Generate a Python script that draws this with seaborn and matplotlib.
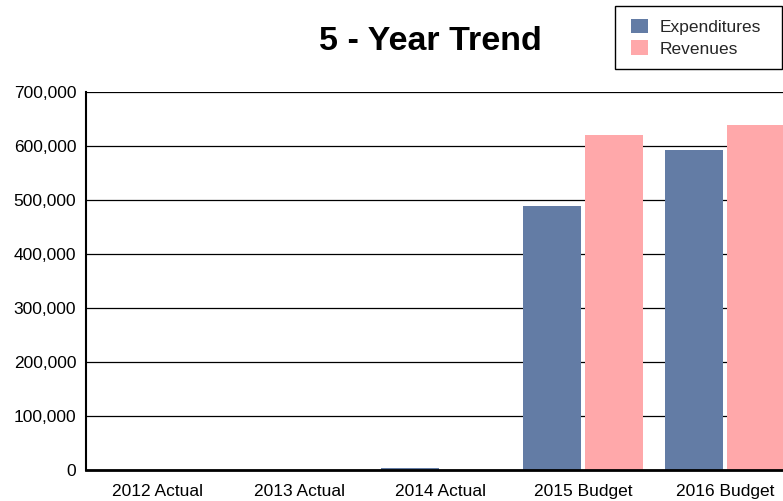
import matplotlib
matplotlib.use("Agg")
import matplotlib.pyplot as plt
import seaborn as sns
import pandas as pd
from matplotlib.patches import Patch, Rectangle
from matplotlib.ticker import FuncFormatter

categories = ["2012 Actual", "2013 Actual", "2014 Actual", "2015 Budget", "2016 Budget"]
expenditures = [0, 0, 4000, 489000, 593000]
revenues = [0, 0, 0, 620000, 639000]
series_names = ["Expenditures", "Revenues"]
colors = ["#637CA5", "#FFA8AA"]
yticks = [0, 100000, 200000, 300000, 400000, 500000, 600000, 700000]

df = pd.DataFrame({
    "Category": categories * 2,
    "Series": [series_names[0]] * len(categories) + [series_names[1]] * len(categories),
    "Value": expenditures + revenues,
})

sns.set_theme(style="white")
plt.rcParams["font.family"] = ["Liberation Sans", "DejaVu Sans"]

W, H = 783, 501
fig = plt.figure(figsize=(7.83, 5.01), dpi=100)
ax = fig.add_axes([86 / W, 31 / H, 710 / W, 378 / H])

sns.barplot(data=df, x="Category", y="Value", hue="Series", order=categories,
            hue_order=series_names, palette=colors, width=0.86, gap=0.05,
            saturation=1, linewidth=0, ax=ax, legend=False)

ax.set_xlim(-0.5, 4.5)
ax.set_ylim(0, 700000)
ax.set_yticks(yticks)
ax.yaxis.set_major_formatter(FuncFormatter(lambda v, p: f"{int(v):,}"))
ax.set_xlabel("")
ax.set_ylabel("")
ax.set_axisbelow(True)
ax.yaxis.grid(True, color="black", linewidth=0.9)
ax.xaxis.grid(False)
for s in ["top", "right"]:
    ax.spines[s].set_visible(False)
ax.spines["left"].set_color("black")
ax.spines["left"].set_linewidth(1.5)
ax.spines["bottom"].set_color("black")
ax.spines["bottom"].set_linewidth(2)
ax.tick_params(axis="both", length=0, labelsize=12.5, colors="black")
ax.tick_params(axis="x", pad=10)
ax.tick_params(axis="y", pad=7)

fig.text(430 / W, 1 - 42 / H, "5 - Year Trend", ha="center", va="center",
         fontsize=24.5, fontweight="bold", color="black")

# legend box
fig.patches.append(Rectangle((615 / W, 1 - 69 / H), (782 - 615) / W, (69 - 6) / H,
                             transform=fig.transFigure, facecolor="white",
                             edgecolor="black", linewidth=1.0, zorder=5))
handles = [Patch(facecolor=c, edgecolor="none") for c in colors]
leg = fig.legend(handles, series_names, loc="upper left",
                 bbox_to_anchor=(631 / W, 1 - 19 / H), fontsize=12.5,
                 frameon=False, handlelength=1.0, handleheight=0.9,
                 handletextpad=0.65, borderpad=0, labelspacing=0.3,
                 borderaxespad=0)
leg.set_zorder(6)

fig.savefig("out.png", dpi=100)
